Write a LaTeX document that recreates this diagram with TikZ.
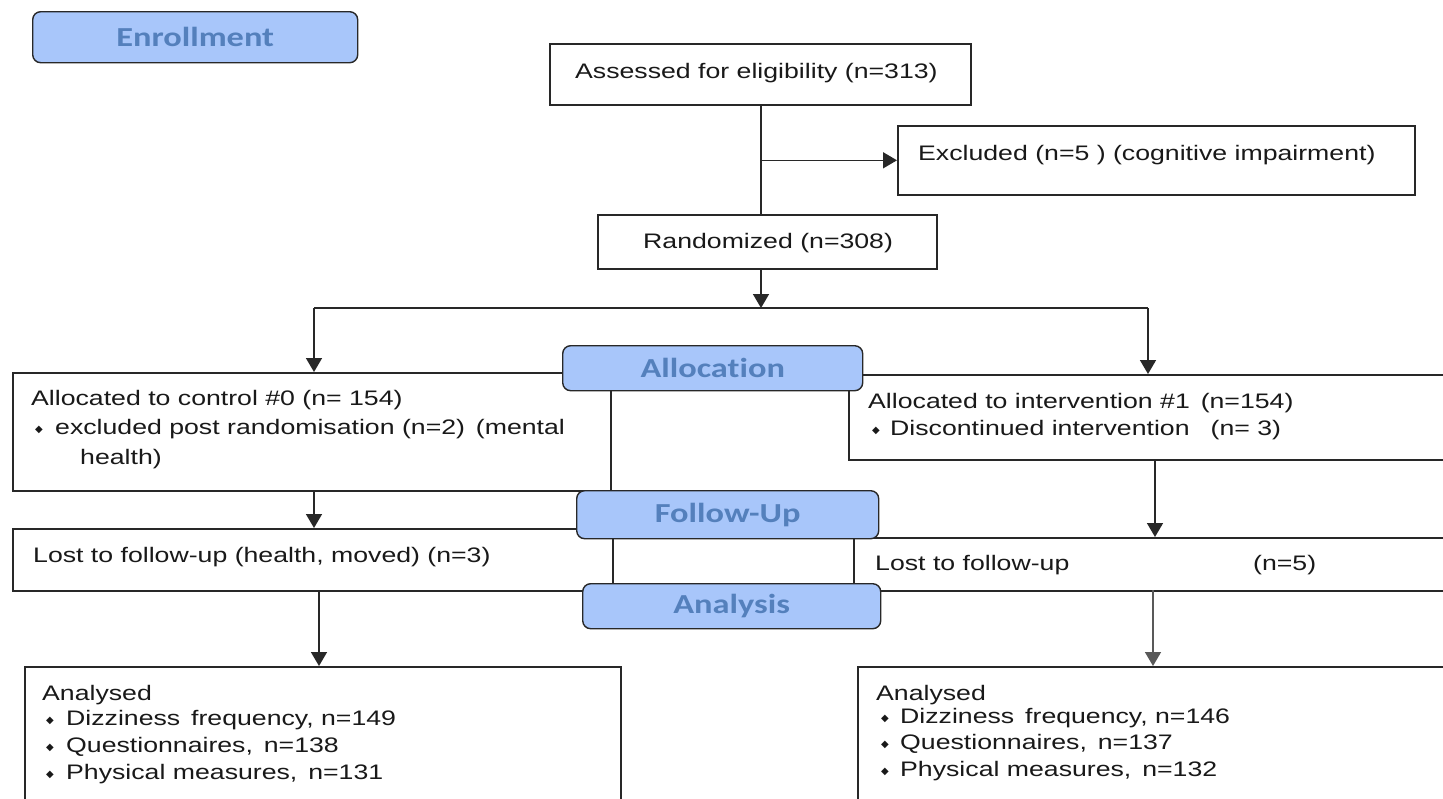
\documentclass[tikz,border=0pt]{standalone}
\usepackage{fontspec}
\setmainfont{Liberation Sans}[FakeStretch=1.27]
\newfontfamily\hdrfont{Carlito}[FakeStretch=1.25,Ligatures={NoCommon}]
\newfontfamily\symfnt{DejaVu Sans}
\usetikzlibrary{arrows.meta}
\definecolor{hfill}{RGB}{168,198,250}
\definecolor{htext}{RGB}{84,128,188}
\definecolor{lcol}{RGB}{40,40,40}
\begin{document}
\begin{tikzpicture}[x=1pt,y=-1pt,
 box/.style={draw=lcol,line width=1.6pt,rectangle,inner sep=0,anchor=north west},
 hdr/.style={draw=lcol,line width=1.4pt,fill=hfill,rounded corners=8pt,inner sep=0,anchor=north west,text=htext,font=\hdrfont\bfseries\fontsize{27.5}{27.5}\selectfont},
 txt/.style={anchor=base west,inner sep=0,font=\fontsize{21}{26}\selectfont,text=black!90},
 bul/.style={anchor=base west,inner sep=0,font=\symfnt\fontsize{10}{10}\selectfont,text=black!90},
 arr/.style={draw=lcol,line width=1.6pt,-{Triangle[width=16pt,length=14pt]}},
 ln/.style={draw=lcol,line width=1.6pt}]
\useasboundingbox (0,0) rectangle (1443,798);
\clip (0,0) rectangle (1443,798);
\fill[white] (0,0) rectangle (1443,798);

% boxes
\node[box,minimum width=421pt,minimum height=61pt] (A) at (549,43) {};
\node[box,minimum width=517pt,minimum height=69pt] (E) at (897,125) {};
\node[box,minimum width=339pt,minimum height=54pt] (R) at (597,214) {};
\node[box,minimum width=598pt,minimum height=118pt] (C) at (12,372) {};
\node[box,minimum width=620pt,minimum height=85pt] (I) at (848,374) {};
\node[box,minimum width=600pt,minimum height=62pt] (L1) at (12,528) {};
\node[box,minimum width=620pt,minimum height=53pt] (L2) at (853,537) {};
\node[box,minimum width=596pt,minimum height=160pt] (N1) at (24,666) {};
\node[box,minimum width=620pt,minimum height=160pt] (N2) at (857,666) {};

% texts
\node[txt] (tA) at (575,78) {Assessed for eligibility (n=313)};
\node[txt] (tE) at (918,160) {Excluded (n=5 ) (cognitive impairment)};
\node[txt] (tR) at (643,248) {Randomized (n=308)};
\node[txt] (tC1) at (31,405) {Allocated to control \#0 (n= 154)};
\node[bul] (bC) at (35,432) {◆};
\node[txt] (tC2) at (55,434) {excluded post randomisation (n=2)\, (mental};
\node[txt] (tC3) at (80,464) {health)};
\node[txt] (tI1) at (868,408) {Allocated to intervention \#1\, (n=154)};
\node[bul] (bI) at (872,433) {◆};
\node[txt] (tI2) at (890,435) {Discontinued intervention\quad(n= 3)};
\node[txt] (tL1) at (33,562) {Lost to follow-up (health, moved) (n=3)};
\node[txt] (tL2) at (875,570) {Lost to follow-up};
\node[txt] (tL2b) at (1253,570) {(n=5)};
\node[txt] (tN1) at (42,700) {Analysed};
\node[bul] (bN1a) at (46,723) {◆};
\node[txt] (tN1a) at (66,725) {Dizziness\, frequency, n=149};
\node[bul] (bN1b) at (46,750) {◆};
\node[txt] (tN1b) at (66,752) {Questionnaires,\, n=138};
\node[bul] (bN1c) at (46,777) {◆};
\node[txt] (tN1c) at (66,779) {Physical measures,\, n=131};
\node[txt] (tN2) at (876,700) {Analysed};
\node[bul] (bN2a) at (881,721) {◆};
\node[txt] (tN2a) at (900,723) {Dizziness\, frequency, n=146};
\node[bul] (bN2b) at (881,747) {◆};
\node[txt] (tN2b) at (900,749) {Questionnaires,\, n=137};
\node[bul] (bN2c) at (881,774) {◆};
\node[txt] (tN2c) at (900,776) {Physical measures,\, n=132};

% connectors
\coordinate (s) at (761,104);
\coordinate (br) at (761,308);
\coordinate (bl) at (314,308);
\coordinate (brr) at (1148,308);
\draw[ln] (s) -- (s |- R.north);
\draw[arr] (s |- E.west) -- (E.west);
\draw[arr] (br |- R.south) -- (br);
\draw[ln] (bl) -- (brr);
\draw[arr] (bl) -- (bl |- C.north);
\draw[arr] (brr) -- (brr |- I.north);
\coordinate (c1) at (314,490);
\draw[arr] (c1) -- (c1 |- L1.north);
\coordinate (c2) at (1155,459);
\draw[arr] (c2) -- (c2 |- L2.north);
\coordinate (c3) at (319,590);
\draw[arr] (c3) -- (c3 |- N1.north);
\coordinate (c4) at (1153,590);
\draw[arr,draw=black!65] (c4) -- (c4 |- N2.north);

% stage headers
\node[hdr,minimum width=325pt,minimum height=51pt] (H1) at (32,11) {Enrollment};
\node[hdr,minimum width=300pt,minimum height=45pt] (H2) at (562,345) {Allocation};
\node[hdr,minimum width=302pt,minimum height=48pt] (H3) at (576,490) {Follow-Up};
\node[hdr,minimum width=298pt,minimum height=45pt] (H4) at (582,583) {Analysis};
\end{tikzpicture}
\end{document}
